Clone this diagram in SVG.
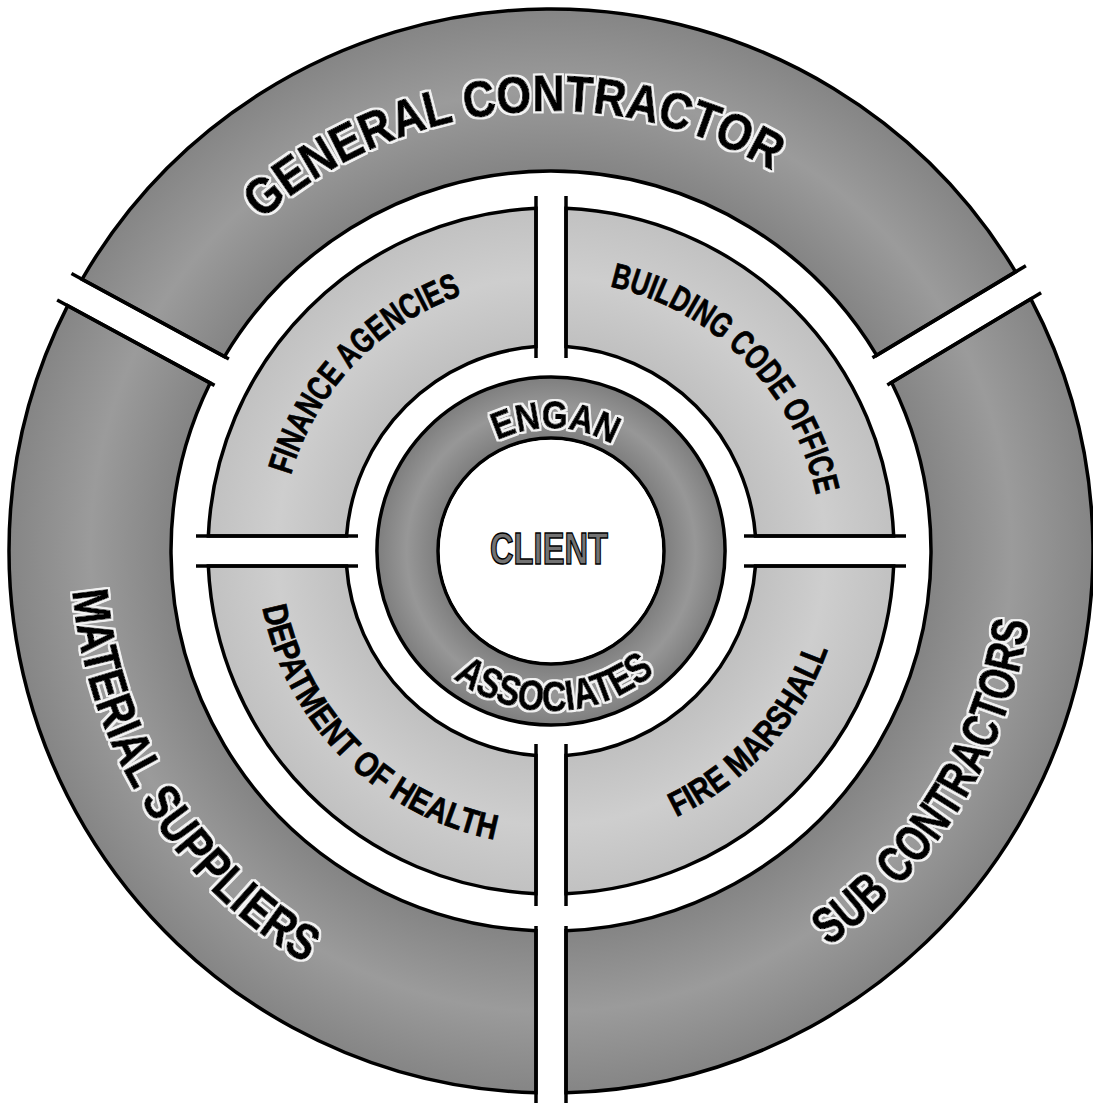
<svg xmlns="http://www.w3.org/2000/svg" width="1093" height="1103" viewBox="0 0 1093 1103">
  <style>
    .seg { stroke: #000; stroke-width: 3.5; stroke-linejoin: miter; }
    .div { stroke: #000; stroke-width: 3.5; fill: none; }
    .lbl { font-family: "Liberation Sans", Arial, sans-serif; font-weight: 700; fill: #000; stroke: #000; }
    .onDark { stroke-width: 1; filter: url(#halo); }
    .onLight { stroke-width: 0.7; }
    .big { font-size: 51px; }
    .mid { font-size: 35px; }
    .core { font-size: 38px; }
  </style>
  <defs>
    <!-- light outline round the lettering on the darker rings -->
    <filter id="halo" x="-10%" y="-20%" width="120%" height="140%">
      <feMorphology in="SourceAlpha" operator="dilate" radius="2" result="grown"/>
      <feFlood flood-color="#f3f3f3"/>
      <feComposite in2="grown" operator="in" result="edge"/>
      <feMerge>
        <feMergeNode in="edge"/>
        <feMergeNode in="SourceGraphic"/>
      </feMerge>
    </filter>

    <!-- shading for the three rings -->
    <radialGradient id="gOuter" gradientUnits="userSpaceOnUse" cx="551" cy="551" r="542">
      <stop offset="0.70" stop-color="#848484"/>
      <stop offset="0.85" stop-color="#9b9b9b"/>
      <stop offset="1" stop-color="#858585"/>
    </radialGradient>
    <radialGradient id="gMiddle" gradientUnits="userSpaceOnUse" cx="551" cy="551" r="343">
      <stop offset="0.60" stop-color="#c0c0c0"/>
      <stop offset="0.80" stop-color="#cecece"/>
      <stop offset="1" stop-color="#c1c1c1"/>
    </radialGradient>
    <radialGradient id="gCore" gradientUnits="userSpaceOnUse" cx="551" cy="551" r="174">
      <stop offset="0.65" stop-color="#7e7e7e"/>
      <stop offset="0.83" stop-color="#979797"/>
      <stop offset="1" stop-color="#7e7e7e"/>
    </radialGradient>

    <!-- baselines for the curved labels (centre 551,551) -->
    <path id="pGeneral" d="M211.49,271.12 A440,440 0 0 1 830.88,211.49"/>
    <path id="pMaterial" d="M75.67,484.2 A480,480 0 0 0 402.67,1007.51"/>
    <path id="pSub" d="M742.05,994.61 A483,483 0 0 0 1033.2,523.2"/>
    <path id="pEngan" d="M459.59,468.7 A123,123 0 0 1 647.93,475.27"/>
    <path id="pAssoc" d="M414.58,634.6 A160,160 0 0 0 691.61,627.35"/>
    <path id="pFinance" d="M280.51,534.46 A271,271 0 0 1 520.32,281.74"/>
    <path id="pBuilding" d="M576.03,281.16 A271,271 0 0 1 821.09,528.79"/>
    <path id="pHealth" d="M257,551 A294,294 0 0 0 551,845"/>
    <path id="pFire" d="M640.88,830.93 A294,294 0 0 0 838.36,613.13"/>
  </defs>

  <rect width="1093" height="1103" fill="#fff"/>

  <!-- outer ring -->
  <g id="general-contractor">
    <path class="seg" fill="url(#gOuter)" d="M82.02,279.3 A542,542 0 0 1 1015.59,271.85 L876.72,355.28 A380,380 0 0 0 224.47,356.64 Z"/>
    <text class="lbl big onDark"><textPath href="#pGeneral" startOffset="50%" text-anchor="middle" textLength="548" lengthAdjust="spacingAndGlyphs">GENERAL CONTRACTOR</textPath></text>
  </g>
  <g id="sub-contractors">
    <path class="seg" fill="url(#gOuter)" d="M1030.8,298.88 A542,542 0 0 1 566,1092.79 L566,930.7 A380,380 0 0 0 891.61,382.51 Z"/>
    <text class="lbl big onDark"><textPath href="#pSub" startOffset="50%" text-anchor="middle" textLength="392" lengthAdjust="spacingAndGlyphs">SUB CONTRACTORS</textPath></text>
  </g>
  <g id="material-suppliers">
    <path class="seg" fill="url(#gOuter)" d="M536,1092.79 A542,542 0 0 1 67.7,305.66 L210.15,383 A380,380 0 0 0 536,930.7 Z"/>
    <text class="lbl big onDark"><textPath href="#pMaterial" startOffset="50%" text-anchor="middle" textLength="456" lengthAdjust="spacingAndGlyphs">MATERIAL SUPPLIERS</textPath></text>
  </g>

  <!-- middle ring quadrants -->
  <g id="finance-agencies">
    <path class="seg" fill="url(#gMiddle)" d="M208.33,536 A343,343 0 0 1 536,208.33 L536,346.55 A205,205 0 0 0 346.55,536 Z"/>
    <text class="lbl mid onLight"><textPath href="#pFinance" startOffset="50%" text-anchor="middle" textLength="258" lengthAdjust="spacingAndGlyphs">FINANCE AGENCIES</textPath></text>
  </g>
  <g id="building-code-office">
    <path class="seg" fill="url(#gMiddle)" d="M566,208.33 A343,343 0 0 1 893.67,536 L755.45,536 A205,205 0 0 0 566,346.55 Z"/>
    <text class="lbl mid onLight"><textPath href="#pBuilding" startOffset="50%" text-anchor="middle" textLength="310" lengthAdjust="spacingAndGlyphs">BUILDING CODE OFFICE</textPath></text>
  </g>
  <g id="fire-marshall">
    <path class="seg" fill="url(#gMiddle)" d="M893.67,566 A343,343 0 0 1 566,893.67 L566,755.45 A205,205 0 0 0 755.45,566 Z"/>
    <text class="lbl mid onLight"><textPath href="#pFire" startOffset="50%" text-anchor="middle" textLength="232" lengthAdjust="spacingAndGlyphs">FIRE MARSHALL</textPath></text>
  </g>
  <g id="department-of-health">
    <path class="seg" fill="url(#gMiddle)" d="M536,893.67 A343,343 0 0 1 208.33,566 L346.55,566 A205,205 0 0 0 536,755.45 Z"/>
    <text class="lbl mid onLight"><textPath href="#pHealth" startOffset="50%" text-anchor="middle" textLength="348" lengthAdjust="spacingAndGlyphs">DEPATMENT OF HEALTH</textPath></text>
  </g>

  <!-- inner ring -->
  <g id="engan-associates">
    <path class="seg" fill="url(#gCore)" fill-rule="evenodd" d="M551,377 A174,174 0 1 1 551,725 A174,174 0 1 1 551,377 Z M551,438 A113,113 0 1 0 551,664 A113,113 0 1 0 551,438 Z"/>
    <text class="lbl core onDark"><textPath href="#pEngan" startOffset="50%" text-anchor="middle" textLength="120" lengthAdjust="spacingAndGlyphs">ENGAN</textPath></text>
    <text class="lbl core onDark" style="font-size:42px"><textPath href="#pAssoc" startOffset="50%" text-anchor="middle" textLength="218" lengthAdjust="spacingAndGlyphs">ASSOCIATES</textPath></text>
  </g>

  <!-- centre -->
  <g id="client">
    <circle cx="551" cy="551" r="111" fill="#fff"/>
    <text x="549" y="564" text-anchor="middle" font-family="Liberation Sans, Arial, sans-serif" font-weight="700" font-size="45" textLength="118" lengthAdjust="spacingAndGlyphs" fill="#727272" stroke="#000" stroke-width="1.5">CLIENT</text>
  </g>

  <!-- separators between the segments -->
  <g id="dividers" class="div">
    <line x1="536" y1="196" x2="536" y2="358"/>
    <line x1="566" y1="196" x2="566" y2="358"/>
    <line x1="536" y1="744" x2="536" y2="906"/>
    <line x1="566" y1="744" x2="566" y2="906"/>
    <line x1="196" y1="536" x2="358" y2="536"/>
    <line x1="196" y1="566" x2="358" y2="566"/>
    <line x1="744" y1="536" x2="906" y2="536"/>
    <line x1="744" y1="566" x2="906" y2="566"/>
    <line x1="536" y1="926" x2="536" y2="1103"/>
    <line x1="566" y1="926" x2="566" y2="1103"/>
    <line x1="228.87" y1="359.03" x2="71.47" y2="273.57"/>
    <line x1="214.55" y1="385.39" x2="57.15" y2="299.93"/>
    <line x1="872.44" y1="357.86" x2="1025.87" y2="265.67"/>
    <line x1="887.31" y1="385.09" x2="1041.1" y2="292.69"/>
  </g>
</svg>
